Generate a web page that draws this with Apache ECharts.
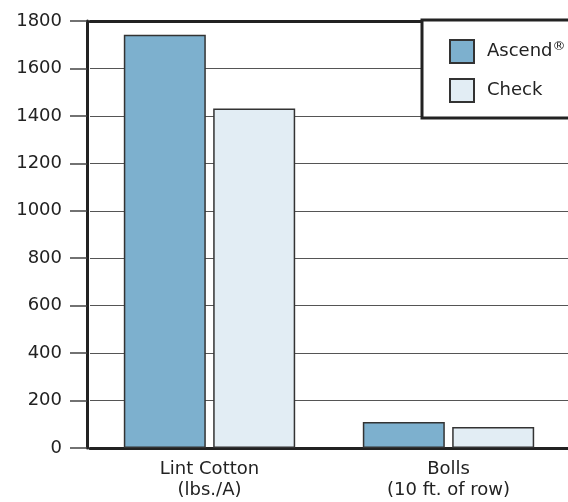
<!DOCTYPE html>
<html>
<head>
<meta charset="utf-8">
<script src="https://cdn.jsdelivr.net/npm/echarts@6/dist/echarts.min.js"></script>
<style>
html,body{margin:0;padding:0;background:#fff;}
#c{width:568px;height:502px;}
</style>
</head>
<body>
<div id="c"></div>
<script>
var categories = ['Lint Cotton\n(lbs./A)', 'Bolls\n(10 ft. of row)'];
var seriesNames = ['Ascend', 'Check'];
var ascendValues = [1742, 110];
var checkValues = [1431, 88];
var yTicks = {min: 0, max: 1800, interval: 200};

var FONT = '"DejaVu Sans", sans-serif';
var chart = echarts.init(document.getElementById('c'), null, {renderer: 'canvas'});
chart.setOption({
  animation: false,
  backgroundColor: '#fff',
  grid: { left: 90, right: -2, top: 21, bottom: 54 },
  legend: {
    orient: 'vertical',
    left: 422, top: 20,
    data: seriesNames,
    icon: 'rect',
    backgroundColor: '#fff',
    borderColor: '#222',
    borderWidth: 3,
    padding: [19, 20, 15, 27],
    itemWidth: 24, itemHeight: 23, itemGap: 14,
    formatter: function (n) { return n === 'Ascend' ? 'Ascend{sup|®}' : n; },
    textStyle: {
      fontFamily: FONT, fontSize: 18, color: '#222', padding: [0, 0, 0, 8],
      rich: { sup: { fontFamily: FONT, fontSize: 13, color: '#222', verticalAlign: 'bottom', padding: [0, 0, 10, 0] } }
    }
  },
  xAxis: [{
    type: 'category',
    data: categories,
    axisLine: { show: true, lineStyle: { color: '#222', width: 3 } },
    axisTick: { show: false },
    axisLabel: { fontFamily: FONT, fontSize: 18, color: '#222', lineHeight: 21, margin: 11 }
  }, {
    type: 'category',
    position: 'top',
    data: categories,
    axisLine: { show: true, lineStyle: { color: '#222', width: 3 } },
    axisTick: { show: false },
    axisLabel: { show: false }
  }],
  yAxis: {
    type: 'value',
    offset: 3,
    min: yTicks.min, max: yTicks.max, interval: yTicks.interval,
    axisLine: { show: true, lineStyle: { color: '#222', width: 3 } },
    axisTick: { show: true, length: 17, lineStyle: { color: '#444', width: 1.5 } },
    axisLabel: { fontFamily: FONT, fontSize: 18, color: '#222', margin: 25,
      formatter: function (v) { return String(v); } },
    splitLine: { show: true, lineStyle: { color: '#555', width: 1.2 } }
  },
  series: [
    {
      name: 'Ascend', type: 'bar', data: ascendValues,
      barWidth: 82, barGap: '9%',
      itemStyle: { color: '#7DB0CE', borderColor: '#333', borderWidth: 1.5 }
    },
    {
      name: 'Check', type: 'bar', data: checkValues,
      barWidth: 82,
      itemStyle: { color: '#E2EDF4', borderColor: '#333', borderWidth: 1.5 }
    }
  ]
});
</script>
</body>
</html>
